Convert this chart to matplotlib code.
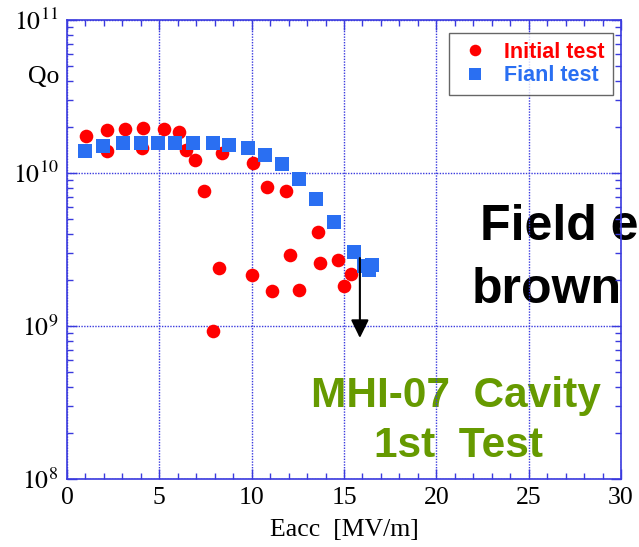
import matplotlib
matplotlib.use("Agg")
import matplotlib.pyplot as plt
from matplotlib.ticker import FixedLocator, FixedFormatter, LogLocator, MultipleLocator, NullFormatter

plt.rcParams["mathtext.fontset"] = "stix"

# Initial test: accelerating field [MV/m] and Q0
initial_eacc = [1.03, 2.15, 2.15, 3.14, 4.13, 4.06, 5.25, 6.08, 6.44, 6.95,
                8.39, 7.42, 10.05, 10.85, 11.84, 13.61, 12.07, 13.70, 14.67,
                15.38, 14.98, 8.21, 10.0, 11.12, 12.54, 7.92]
initial_q0 = [1.75e10, 1.91e10, 1.39e10, 1.94e10, 1.98e10, 1.45e10, 1.94e10,
              1.85e10, 1.41e10, 1.22e10, 1.35e10, 7.65e9, 1.17e10, 8.05e9,
              7.65e9, 4.09e9, 2.90e9, 2.60e9, 2.69e9, 2.20e9, 1.83e9, 2.40e9,
              2.17e9, 1.70e9, 1.73e9, 9.27e8]

# Final test
final_eacc = [0.96, 1.93, 3.02, 4.01, 4.93, 5.83, 6.84, 7.89, 8.75, 9.80,
              10.70, 11.64, 12.58, 13.48, 14.47, 15.55, 16.1, 16.5, 16.35]
final_q0 = [1.40e10, 1.50e10, 1.56e10, 1.58e10, 1.58e10, 1.58e10, 1.58e10,
            1.56e10, 1.53e10, 1.45e10, 1.32e10, 1.14e10, 9.15e9, 6.73e9,
            4.81e9, 3.06e9, 2.45e9, 2.52e9, 2.32e9]

# Field-emission drop indicator (start and end of arrow)
arrow_eacc = 15.86
arrow_q0_start = 2.78e9
arrow_q0_end = 8.35e8

x_ticks = [0, 5, 10, 15, 20, 25, 30]
x_tick_labels = ["0", "5", "10", "15", "20", "25", "30"]
y_ticks = [1e8, 1e9, 1e10, 1e11]
y_tick_labels = [r"$10^{8}$", r"$10^{9}$", r"$10^{10}$", r"$10^{11}$"]

W, H = 639, 547
fig = plt.figure(figsize=(W / 100, H / 100), dpi=100)
ax = fig.add_axes([67 / W, 1 - 479 / H, (621 - 67) / W, (479 - 20) / H])
ax.patch.set_facecolor("none")

axis_blue = "#3a3ade"
red = "#ff0000"
blue = "#2a6ff2"

ax.set_yscale("log")
ax.set_xlim(0, 30)
ax.set_ylim(1e8, 1e11)

ax.plot(initial_eacc, initial_q0, linestyle="none", marker="o", markersize=9.8,
        color=red, markeredgewidth=0, label="Initial test", zorder=3)
ax.plot(final_eacc, final_q0, linestyle="none", marker="s", markersize=9.4,
        color=blue, markeredgewidth=0, label="Fianl test", zorder=4)

ax.annotate("", xy=(arrow_eacc, arrow_q0_end), xytext=(arrow_eacc, arrow_q0_start),
            arrowprops=dict(arrowstyle="-|>,head_length=0.55,head_width=0.27",
                            color="black", lw=1.5, mutation_scale=20,
                            shrinkA=0, shrinkB=0), zorder=5)

# axes styling
for sp in ax.spines.values():
    sp.set_color(axis_blue)
    sp.set_linewidth(1.2)

ax.xaxis.set_major_locator(FixedLocator(x_ticks))
ax.xaxis.set_major_formatter(FixedFormatter(x_tick_labels))
ax.xaxis.set_minor_locator(MultipleLocator(1))
ax.yaxis.set_major_locator(FixedLocator(y_ticks))
ax.yaxis.set_major_formatter(FixedFormatter(y_tick_labels))
ax.yaxis.set_minor_locator(LogLocator(base=10, subs=range(2, 10)))
ax.yaxis.set_minor_formatter(NullFormatter())

ax.tick_params(which="both", direction="in", top=True, right=True,
               color=axis_blue, width=1.0)
ax.tick_params(which="major", length=7)
ax.tick_params(which="minor", length=4)
ax.tick_params(axis="x", which="major", labelsize=18.5, pad=6)
ax.tick_params(axis="y", which="major", labelsize=18.5, pad=6)
for lab in ax.get_xticklabels():
    lab.set_fontfamily("Liberation Serif")

ax.grid(True, which="major", color=axis_blue, linestyle=(0, (1, 1)), linewidth=1.0)

leg = ax.legend(loc="upper right", bbox_to_anchor=(613 / W, 1 - 33 / H),
                bbox_transform=fig.transFigure, frameon=True, fancybox=False,
                prop={"family": "Liberation Sans", "weight": "bold", "size": 15.5},
                handletextpad=0.55, borderpad=0.4, labelspacing=0.12,
                handlelength=1.6, borderaxespad=0, markerscale=0.85)
leg.get_frame().set_edgecolor("#404040")
leg.get_frame().set_linewidth(1.0)
for txt, c in zip(leg.get_texts(), [red, blue]):
    txt.set_color(c)

# axis titles
fig.text(44 / W, 1 - 77 / H, "Qo", ha="center", va="center",
         family="Liberation Serif", fontsize=18.5)
fig.text(344 / W, 1 - 530 / H, "Eacc  [MV/m]", ha="center", va="center",
         family="Liberation Serif", fontsize=18.5)

# annotations (kept beneath the axes frame and grid)
fig.text(480 / W, 1 - 240 / H, "Field emission", ha="left", va="baseline",
         family="Liberation Sans", weight="bold", fontsize=36, color="black",
         zorder=-1)
fig.text(472 / W, 1 - 303 / H, "brown", ha="left", va="baseline",
         family="Liberation Sans", weight="bold", fontsize=36, color="black",
         zorder=-1)
green = "#669a00"
fig.text(456 / W, 1 - 407 / H, "MHI-07  Cavity", ha="center", va="baseline",
         family="Liberation Sans", weight="bold", fontsize=30.5, color=green,
         zorder=-1)
fig.text(458 / W, 1 - 457 / H, "1st  Test", ha="center", va="baseline",
         family="Liberation Sans", weight="bold", fontsize=30.5, color=green,
         zorder=-1)

fig.savefig("out.png", dpi=100)
